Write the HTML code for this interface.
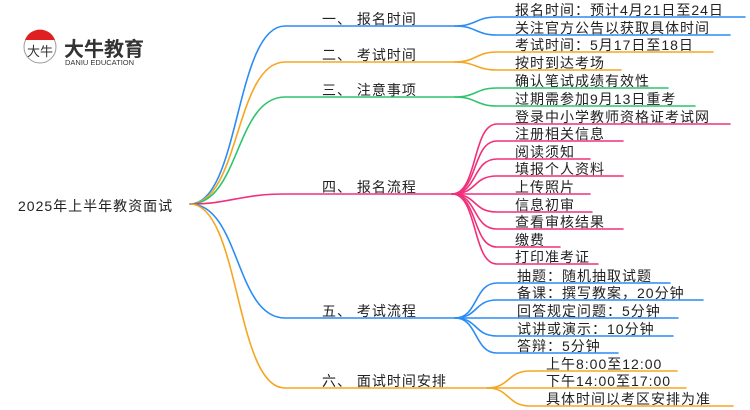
<!DOCTYPE html>
<html><head><meta charset="utf-8"><style>
html,body{margin:0;padding:0;background:#fff;width:750px;height:410px;overflow:hidden}
svg text{font-family:"Liberation Sans","Noto Sans CJK SC",sans-serif;font-size:14px;letter-spacing:1px;fill:#222}
</style></head><body>
<svg width="750" height="410" viewBox="0 0 750 410" xmlns="http://www.w3.org/2000/svg" fill="none" stroke-width="1.6">
<circle cx="40" cy="47" r="16" fill="#fff" stroke="#999" stroke-width="1"/>
<path d="M25,40 A16,16 0 0 1 55,40 Z" fill="#e02020" stroke="none"/>
<text x="27" y="56" style="font-size:13px;letter-spacing:0;fill:#333">大牛</text>
<text x="64" y="56" style="font-size:20px;letter-spacing:0;font-weight:bold;fill:#333">大牛教育</text>
<text x="65" y="65" style="font-size:7.5px;letter-spacing:0;fill:#333">DANIU EDUCATION</text>
<text x="18" y="211">2025年上半年教资面试</text>
<g stroke-linecap="round">
<path d="M190,204 C240,204 235,26 285,26 H455" stroke="#2a8cf5"/>
<path d="M190,204 C240,204 235,62 285,62 H455" stroke="#f5a623"/>
<path d="M190,204 C240,204 235,97 285,97 H455" stroke="#2ec46e"/>
<path d="M190,204 C230,204 240,194 285,194 H452" stroke="#f0307a"/>
<path d="M190,204 C240,204 235,318 285,318 H455" stroke="#2a8cf5"/>
<path d="M190,204 C240,204 235,388 285,388 H487" stroke="#f5a623"/>
<g stroke="#2a8cf5">
<path d="M455,26 C476,26 476,17 497,17 H745"/>
<path d="M455,26 C476,26 476,35 497,35 H730"/>
</g>
<g stroke="#f5a623">
<path d="M455,62 C476,62 476,52 497,52 H713"/>
<path d="M455,62 C476,62 476,70 497,70 H621"/>
</g>
<g stroke="#2ec46e">
<path d="M455,97 C476,97 476,88 497,88 H668"/>
<path d="M455,97 C476,97 476,106 497,106 H695"/>
</g>
<g stroke="#f0307a">
<path d="M452,194 C478,194 472,124 497,124 H730"/>
<path d="M452,194 C478,194 472,141 497,141 H623"/>
<path d="M452,194 C478,194 472,159 497,159 H590"/>
<path d="M452,194 C478,194 472,176 497,176 H623"/>
<path d="M452,194 H590"/>
<path d="M452,194 C478,194 472,212 497,212 H592"/>
<path d="M452,194 C478,194 472,229 497,229 H623"/>
<path d="M452,194 C478,194 472,247 497,247 H560"/>
<path d="M452,194 C478,194 472,264 497,264 H598"/>
</g>
<g stroke="#2a8cf5">
<path d="M455,318 C478,318 474,283 497,283 H670"/>
<path d="M455,318 C478,318 474,300 497,300 H703"/>
<path d="M455,318 H678"/>
<path d="M455,318 C478,318 474,336 497,336 H673"/>
<path d="M455,318 C478,318 474,353 497,353 H618"/>
</g>
<g stroke="#f5a623">
<path d="M487,388 C510,388 507,371 530,371 H677"/>
<path d="M487,388 H686"/>
<path d="M487,388 C510,388 507,406 530,406 H733"/>
</g>
</g>
<text x="322" y="24">一、 报名时间</text>
<text x="322" y="60">二、 考试时间</text>
<text x="322" y="95">三、 注意事项</text>
<text x="322" y="192">四、 报名流程</text>
<text x="322" y="316">五、 考试流程</text>
<text x="322" y="386">六、 面试时间安排</text>
<text x="515" y="15">报名时间：预计4月21日至24日</text>
<text x="515" y="33">关注官方公告以获取具体时间</text>
<text x="515" y="50">考试时间：5月17日至18日</text>
<text x="515" y="68">按时到达考场</text>
<text x="515" y="86">确认笔试成绩有效性</text>
<text x="515" y="104">过期需参加9月13日重考</text>
<text x="515" y="122">登录中小学教师资格证考试网</text>
<text x="515" y="139">注册相关信息</text>
<text x="515" y="157">阅读须知</text>
<text x="515" y="174">填报个人资料</text>
<text x="515" y="192">上传照片</text>
<text x="515" y="210">信息初审</text>
<text x="515" y="227">查看审核结果</text>
<text x="515" y="245">缴费</text>
<text x="515" y="262">打印准考证</text>
<text x="517" y="281">抽题：随机抽取试题</text>
<text x="517" y="298">备课：撰写教案，20分钟</text>
<text x="517" y="316">回答规定问题：5分钟</text>
<text x="517" y="334">试讲或演示：10分钟</text>
<text x="517" y="351">答辩：5分钟</text>
<text x="546" y="369">上午8:00至12:00</text>
<text x="546" y="386">下午14:00至17:00</text>
<text x="546" y="404">具体时间以考区安排为准</text>
</svg>
</body></html>
